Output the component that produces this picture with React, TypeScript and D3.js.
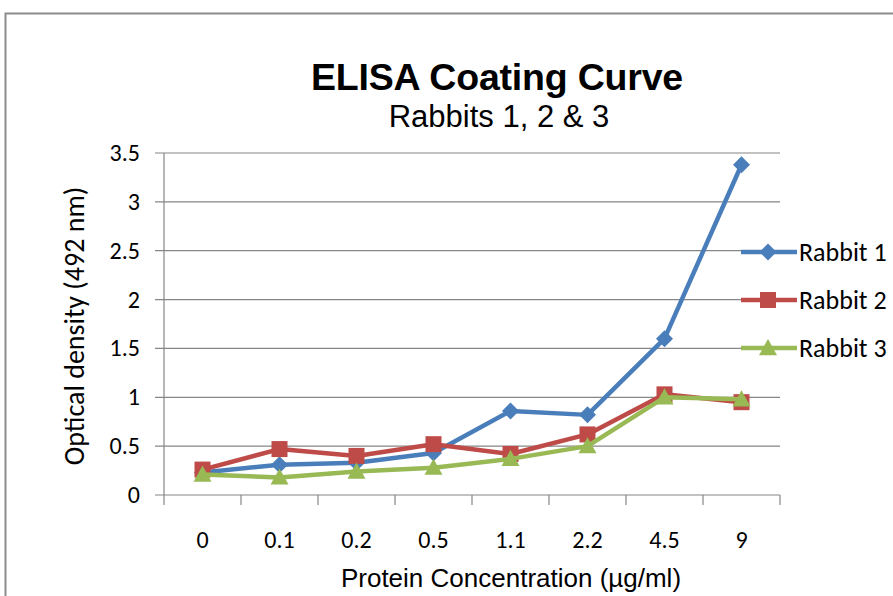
import React from "react";
import * as d3 from "d3";

const categories = ["0", "0.1", "0.2", "0.5", "1.1", "2.2", "4.5", "9"];
const rabbit1 = [0.23, 0.31, 0.33, 0.43, 0.86, 0.82, 1.6, 3.38];
const rabbit2 = [0.26, 0.47, 0.4, 0.52, 0.42, 0.62, 1.03, 0.95];
const rabbit3 = [0.21, 0.18, 0.24, 0.28, 0.37, 0.5, 1.0, 0.98];
const yTicks = [0, 0.5, 1, 1.5, 2, 2.5, 3, 3.5];

const series = [
    { name: "Rabbit 1", values: rabbit1, color: "#4A7EBB", marker: "diamond" },
    { name: "Rabbit 2", values: rabbit2, color: "#BE4B48", marker: "square" },
    { name: "Rabbit 3", values: rabbit3, color: "#98B954", marker: "triangle" },
];

const arial = "'Liberation Sans', Arial, sans-serif";
const calibri = "Carlito, Calibri, Lato, sans-serif";

const Marker: React.FC<{ type: string; x: number; y: number; color: string }> = ({ type, x, y, color }) => {
    if (type === "diamond") {
        const s = 8.5;
        return <path d={`M${x},${y - s}L${x + s},${y}L${x},${y + s}L${x - s},${y}Z`} fill={color} />;
    }
    if (type === "square") {
        const s = 8;
        return <rect x={x - s} y={y - s} width={s * 2} height={s * 2} fill={color} />;
    }
    const s = 9;
    return <path d={`M${x},${y - s}L${x + s},${y + s * 0.8}L${x - s},${y + s * 0.8}Z`} fill={color} />;
};

const App: React.FC = () => {
    const width = 893;
    const height = 596;
    const left = 164;
    const right = 780;
    const top = 153;
    const bottom = 495;

    const x = d3.scaleBand<string>().domain(categories).range([left, right]);
    const y = d3.scaleLinear().domain([0, 3.5]).range([bottom, top]);
    const cx = (c: string) => (x(c) || 0) + x.bandwidth() / 2;

    const line = d3
        .line<number>()
        .x((_, i) => cx(categories[i]))
        .y((d) => y(d));

    const boundaries = categories.map((c) => x(c) || 0).concat([right]);

    return (
        <svg width={width} height={height} style={{ position: "absolute", left: 0, top: 0 }}>
            <rect x={0} y={0} width={width} height={height} fill="#fff" />
            <path d={`M5.5,${height}V13.5H${width}`} fill="none" stroke="#8c8c8c" strokeWidth={2} />

            <text x={497} y={90} textAnchor="middle" fontFamily={arial} fontWeight="bold" fontSize={37.5} letterSpacing={-0.2}>
                ELISA Coating Curve
            </text>
            <text x={499} y={127} textAnchor="middle" fontFamily={arial} fontSize={31}>
                Rabbits 1, 2 &amp; 3
            </text>

            {/* gridlines and y ticks */}
            {yTicks.map((t) => (
                <g key={t}>
                    <line x1={left - 9} x2={right} y1={y(t)} y2={y(t)} stroke="#868686" strokeWidth={1.2} />
                    <text x={140} y={y(t) + 8} textAnchor="end" fontFamily={calibri} fontSize={24}>
                        {t}
                    </text>
                </g>
            ))}
            <line x1={left} x2={left} y1={top} y2={bottom} stroke="#868686" strokeWidth={1.2} />
            {boundaries.map((b, i) => (
                <line key={i} x1={b} x2={b} y1={bottom} y2={bottom + 10} stroke="#868686" strokeWidth={1.2} />
            ))}
            {categories.map((c) => (
                <text key={c} x={cx(c)} y={548} textAnchor="middle" fontFamily={calibri} fontSize={24}>
                    {c}
                </text>
            ))}

            <text x={511} y={587} textAnchor="middle" fontFamily={arial} fontSize={26}>
                Protein Concentration  (µg/ml)
            </text>
            <text transform={`translate(84,326) rotate(-90)`} textAnchor="middle" fontFamily={calibri} fontSize={28}>
                Optical density (492 nm)
            </text>

            {/* series */}
            {series.map((s) => (
                <g key={s.name}>
                    <path d={line(s.values) || ""} fill="none" stroke={s.color} strokeWidth={4.5} strokeLinejoin="round" />
                    {s.values.map((v, i) => (
                        <Marker key={i} type={s.marker} x={cx(categories[i])} y={y(v)} color={s.color} />
                    ))}
                </g>
            ))}

            {/* legend */}
            {series.map((s, i) => {
                const ly = 252 + i * 48;
                return (
                    <g key={s.name}>
                        <line x1={741} x2={797} y1={ly} y2={ly} stroke={s.color} strokeWidth={4.5} />
                        <Marker type={s.marker} x={768} y={ly} color={s.color} />
                        <text x={799} y={ly + 9} fontFamily={calibri} fontSize={26}>
                            {s.name}
                        </text>
                    </g>
                );
            })}
        </svg>
    );
};

export default App;
